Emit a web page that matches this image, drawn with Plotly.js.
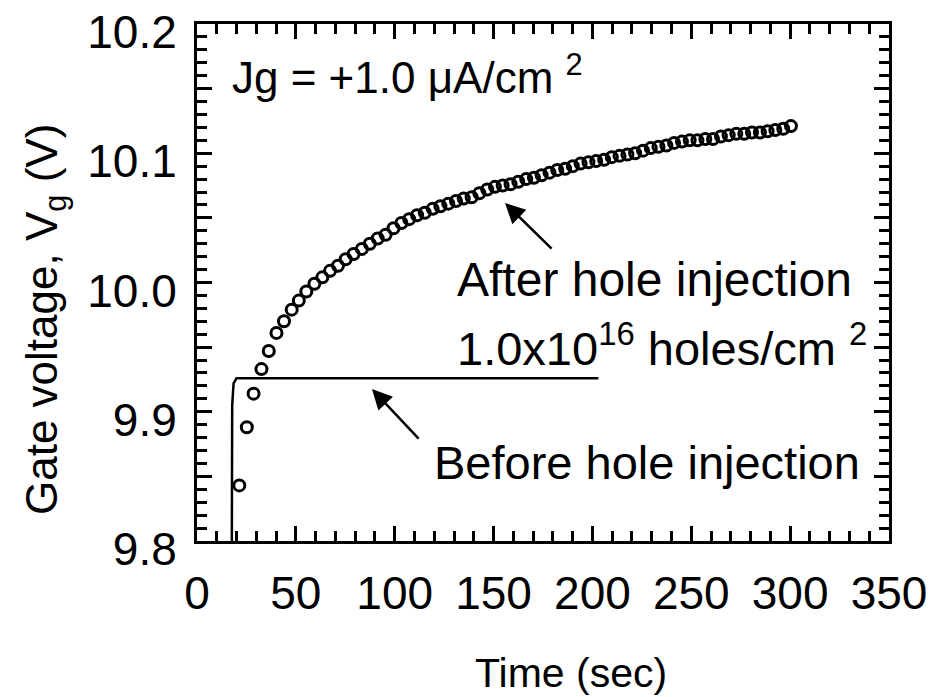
<!DOCTYPE html>
<html>
<head>
<meta charset="utf-8">
<script src="https://cdn.plot.ly/plotly-3.0.1.min.js"></script>
<style>
  html, body { margin: 0; padding: 0; background: #fff; }
  #chart { width: 939px; height: 697px; }
</style>
</head>
<body>
<div id="chart"></div>
<script>
// Gate voltage transient after hole injection (open circles)
const afterTime = [21.4, 25.2, 28.6, 32.6, 36.3, 40.2, 44.0, 47.9, 51.5, 55.3,
  59.4, 63.4, 67.3, 71.3, 75.2, 79.2, 83.4, 87.4, 91.4, 95.4,
  99.4, 103.4, 107.3, 111.3, 115.2, 119.2, 123.1, 127.1, 131.0, 134.9,
  138.9, 142.8, 146.8, 150.7, 154.6, 158.6, 162.5, 166.5, 170.4, 174.3,
  178.3, 182.2, 186.2, 190.1, 194.0, 198.0, 201.9, 205.9, 209.8, 213.7,
  217.7, 221.6, 225.6, 229.5, 233.4, 237.4, 241.3, 245.3, 249.2, 253.1,
  257.1, 261.0, 265.0, 268.9, 272.8, 276.8, 280.7, 284.7, 288.6, 292.5,
  296.5, 300.4];
const afterVg = [9.843, 9.888, 9.914, 9.933, 9.947, 9.961, 9.970, 9.979, 9.986, 9.993,
  9.999, 10.004, 10.009, 10.013, 10.018, 10.022, 10.026, 10.030, 10.034, 10.037,
  10.042, 10.046, 10.049, 10.052, 10.054, 10.057, 10.059, 10.061, 10.063, 10.065,
  10.066, 10.069, 10.072, 10.074, 10.075, 10.076, 10.078, 10.080, 10.081, 10.083,
  10.085, 10.087, 10.088, 10.090, 10.092, 10.093, 10.094, 10.095, 10.097, 10.098,
  10.099, 10.100, 10.102, 10.104, 10.105, 10.106, 10.108, 10.109, 10.110, 10.110,
  10.111, 10.111, 10.113, 10.114, 10.115, 10.115, 10.116, 10.116, 10.117, 10.118,
  10.119, 10.121];

// Gate voltage transient before hole injection (solid line)
const beforeTime = [17.6, 17.8, 18.5, 20.0, 203.0];
const beforeVg = [9.790, 9.905, 9.922, 9.926, 9.926];

// Tick label text: only every 0.1 V is labelled, with one decimal
const yLabelAlias = { '9.85': ' ', '9.95': ' ', '10': '10.0', '10.05': ' ', '10.15': ' ' };

const X_RANGE = [0, 350];
const Y_RANGE = [9.8, 10.2];

const FONT = 'Liberation Sans, Arial, Helvetica, sans-serif';

const traces = [
  {
    x: beforeTime, y: beforeVg,
    type: 'scatter', mode: 'lines',
    line: { color: '#000', width: 2.5 },
    hoverinfo: 'skip', showlegend: false
  },
  {
    x: afterTime, y: afterVg,
    type: 'scatter', mode: 'markers',
    marker: { symbol: 'circle-open', size: 11, color: '#000', line: { width: 3, color: '#000' } },
    showlegend: false
  }
];

const layout = {
  width: 939, height: 697,
  paper_bgcolor: '#fff', plot_bgcolor: '#fff',
  margin: { l: 197, r: 50, t: 24, b: 156 },
  font: { family: FONT, color: '#000' },
  showlegend: false,
  xaxis: {
    range: X_RANGE, dtick: 50, tick0: 0,
    showgrid: false, zeroline: false,
    showline: true, linecolor: '#000', linewidth: 3, mirror: 'ticks',
    ticks: 'inside', ticklen: 15, tickwidth: 3, tickcolor: '#000',
    tickfont: { family: FONT, size: 46, color: '#000' },
    ticklabelstandoff: 10,
    minor: { dtick: 10, ticks: 'inside', ticklen: 10, tickwidth: 3, tickcolor: '#000' }
  },
  yaxis: {
    range: Y_RANGE, dtick: 0.05, tick0: 9.8,
    labelalias: yLabelAlias,
    showgrid: false, zeroline: false,
    showline: true, linecolor: '#000', linewidth: 3, mirror: 'ticks',
    ticks: 'inside', ticklen: 15, tickwidth: 3, tickcolor: '#000',
    tickfont: { family: FONT, size: 46, color: '#000' },
    ticklabelstandoff: 8, ticklabelshift: 8, ticklabeloverflow: 'allow',
    minor: { dtick: 0.01, ticks: 'inside', ticklen: 10, tickwidth: 3, tickcolor: '#000' }
  },
  annotations: [
    // axis titles
    {
      x: 571, y: 673, xref: 'paper', yref: 'paper', xanchor: 'center', yanchor: 'middle', showarrow: false,
      text: 'Time (sec)', font: { family: FONT, size: 41, color: '#000' }
    },
    {
      x: 45, y: 320, xref: 'paper', yref: 'paper', xanchor: 'center', yanchor: 'middle', showarrow: false, textangle: -90,
      text: 'Gate voltage, V<sub>g</sub> (V)', font: { family: FONT, size: 44, color: '#000' }
    },
    // in-plot labels
    {
      x: 16.7, y: 10.1606, xref: 'x', yref: 'y', xanchor: 'left', yanchor: 'middle',
      text: 'Jg = +1.0 \u03bcA/cm <sup>2</sup>', showarrow: false,
      font: { family: FONT, size: 44, color: '#000' }
    },
    {
      x: 130.5, y: 10.002, xref: 'x', yref: 'y', xanchor: 'left', yanchor: 'middle',
      text: 'After hole injection', showarrow: false,
      font: { family: FONT, size: 48, color: '#000' }
    },
    {
      x: 130.5, y: 9.952, xref: 'x', yref: 'y', xanchor: 'left', yanchor: 'middle',
      text: '1.0x10<sup>16</sup> holes/cm <sup>2</sup>', showarrow: false,
      font: { family: FONT, size: 47, color: '#000' }
    },
    {
      x: 118.9, y: 9.861, xref: 'x', yref: 'y', xanchor: 'left', yanchor: 'middle',
      text: 'Before hole injection', showarrow: false,
      font: { family: FONT, size: 47, color: '#000' }
    },
    // arrows
    {
      x: 155.8, y: 10.0615, ax: 180.1, ay: 10.0251, xref: 'x', yref: 'y', axref: 'x', ayref: 'y',
      text: '', showarrow: true, arrowhead: 2, arrowsize: 1.6, arrowwidth: 2.5, arrowcolor: '#000'
    },
    {
      x: 88.5, y: 9.9176, ax: 112.8, ay: 9.878, xref: 'x', yref: 'y', axref: 'x', ayref: 'y',
      text: '', showarrow: true, arrowhead: 2, arrowsize: 1.6, arrowwidth: 2.5, arrowcolor: '#000'
    }
  ]
};

// axis-title positions above are given in pixels; convert to paper fractions
const plotW = layout.width - layout.margin.l - layout.margin.r;
const plotH = layout.height - layout.margin.t - layout.margin.b;
layout.annotations.slice(0, 2).forEach(a => {
  a.x = (a.x - layout.margin.l) / plotW;
  a.y = 1 - (a.y - layout.margin.t) / plotH;
});

Plotly.newPlot('chart', traces, layout, { staticPlot: true, displayModeBar: false });
</script>
</body>
</html>
